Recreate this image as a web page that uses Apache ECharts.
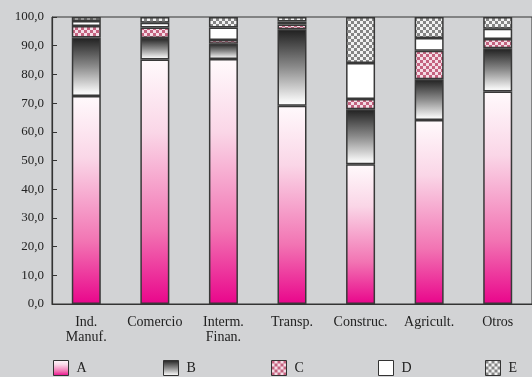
<!DOCTYPE html>
<html>
<head>
<meta charset="utf-8">
<script src="https://cdn.jsdelivr.net/npm/echarts@6/dist/echarts.min.js"></script>
<style>
  html, body { margin: 0; padding: 0; background: #d2d3d5; }
  #chart { width: 532px; height: 377px; }
</style>
</head>
<body>
<div id="chart"></div>
<script>
// Sector categories and the share (%) of each component A–E per sector
const categories = ['Ind.\nManuf.', 'Comercio', 'Interm.\nFinan.', 'Transp.', 'Construc.', 'Agricult.', 'Otros'];
const seriesNames = ['A', 'B', 'C', 'D', 'E'];
const valuesA = [72.5, 85.2, 85.4, 69.1, 48.7, 64.1, 74.0];
const valuesB = [20.4, 7.5, 5.3, 26.6, 19.2, 14.2, 15.1];
const valuesC = [4.0, 3.6, 1.3, 1.7, 3.5, 9.9, 3.2];
const valuesD = [1.7, 1.7, 4.3, 1.0, 12.6, 4.5, 3.6];
const valuesE = [1.4, 2.0, 3.7, 1.6, 16.0, 7.3, 4.1];
const yTicks = [0, 10, 20, 30, 40, 50, 60, 70, 80, 90, 100];

// Checkerboard fill used for the C and E components
function checker(dark, light, cell) {
  const c = document.createElement('canvas');
  c.width = cell * 2; c.height = cell * 2;
  const g = c.getContext('2d');
  g.fillStyle = light; g.fillRect(0, 0, cell * 2, cell * 2);
  g.fillStyle = dark;
  g.fillRect(0, 0, cell, cell);
  g.fillRect(cell, cell, cell, cell);
  return { image: c, repeat: 'repeat' };
}

const fills = {
  A: new echarts.graphic.LinearGradient(0, 0, 0, 1, [
    { offset: 0, color: '#fffafc' },
    { offset: 0.3, color: '#fad6e7' },
    { offset: 0.7, color: '#f274b3' },
    { offset: 1, color: '#e9058b' }
  ]),
  B: new echarts.graphic.LinearGradient(0, 0, 0, 1, [
    { offset: 0, color: '#1f1f1f' },
    { offset: 0.5, color: '#8c8c8c' },
    { offset: 0.92, color: '#f2f2f2' },
    { offset: 1, color: '#ffffff' }
  ]),
  C: checker('#c4627f', '#f4dde6', 3),
  D: '#ffffff',
  E: checker('#858585', '#f2f2f2', 3)
};

const data = { A: valuesA, B: valuesB, C: valuesC, D: valuesD, E: valuesE };
const serif = 'Liberation Serif, Times New Roman, serif';

const series = seriesNames.map(name => ({
  name: name,
  type: 'bar',
  stack: 'total',
  barWidth: 29,
  data: data[name],
  itemStyle: { color: fills[name], borderColor: '#383838', borderWidth: 1.5 }
}));

const legendLeft = [53, 163, 271, 378, 485];
const legends = seriesNames.map((name, i) => ({
  data: [{ name: name, icon: 'rect' }],
  left: legendLeft[i],
  top: 360,
  padding: 0,
  itemWidth: 15,
  itemHeight: 15,
  itemGap: 0,
  selectedMode: false,
  textStyle: { fontFamily: serif, fontSize: 14, color: '#222', padding: [3, 0, 0, 3] },
  itemStyle: { borderColor: '#333', borderWidth: 1 }
}));

const chart = echarts.init(document.getElementById('chart'), null, { renderer: 'canvas' });
chart.setOption({
  backgroundColor: '#d2d3d5',
  animation: false,
  legend: legends,
  grid: {
    left: 52, top: 17, width: 485, height: 287,
    show: true, borderColor: '#333', borderWidth: 1, backgroundColor: 'transparent'
  },
  xAxis: {
    type: 'category',
    data: categories,
    axisLine: { lineStyle: { color: '#333', width: 1.2 } },
    axisTick: { inside: true, length: 5, lineStyle: { color: '#333' } },
    axisLabel: { fontFamily: serif, fontSize: 14, color: '#222', margin: 11, lineHeight: 15, interval: 0 }
  },
  yAxis: {
    type: 'value',
    min: yTicks[0],
    max: yTicks[yTicks.length - 1],
    interval: 10,
    splitLine: { show: false },
    axisLine: { show: true, lineStyle: { color: '#333', width: 1.2 } },
    axisTick: { show: true, inside: true, length: 5, lineStyle: { color: '#333' } },
    axisLabel: {
      fontFamily: serif, fontSize: 13, color: '#222', margin: 8,
      formatter: v => v.toFixed(1).replace('.', ',')
    }
  },
  series: series
});
</script>
</body>
</html>
